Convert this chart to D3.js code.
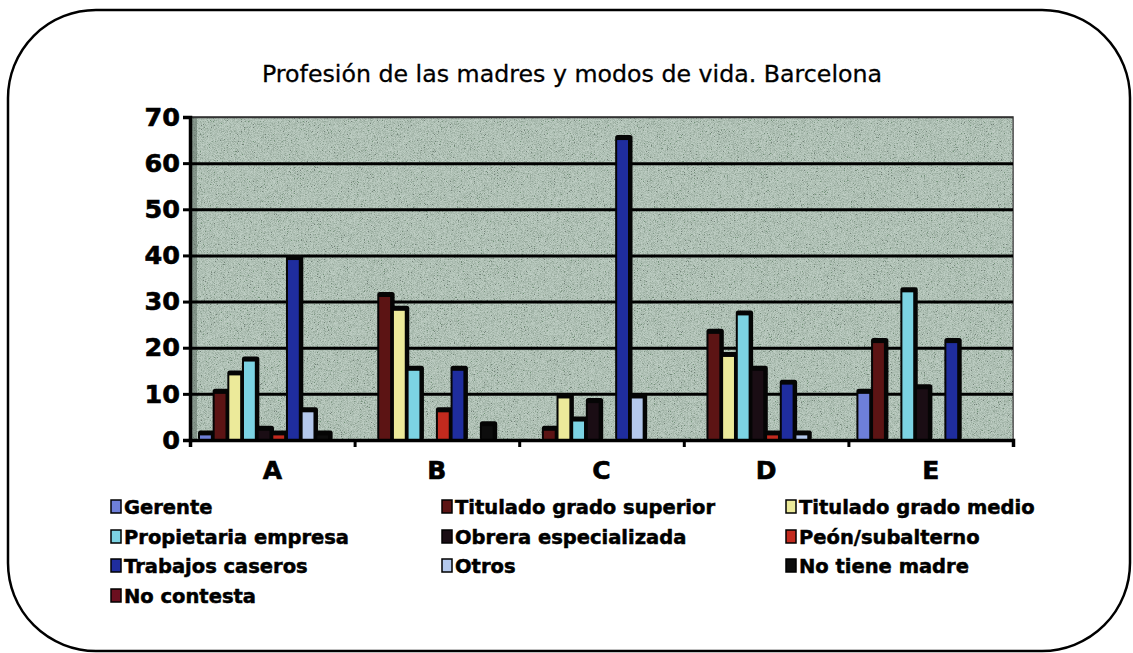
<!DOCTYPE html>
<html>
<head>
<meta charset="utf-8">
<script src="https://cdn.jsdelivr.net/npm/d3@7"></script>
<style>
  body { margin: 0; background: #fff; }
  svg { display: block; }
</style>
</head>
<body>
<svg id="chart" width="1133" height="653"></svg>
<script>
// data
let categories = ['A', 'B', 'C', 'D', 'E']
let seriesNames = ['Gerente', 'Titulado grado superior', 'Titulado grado medio',
  'Propietaria empresa', 'Obrera especializada', 'Peón/subalterno',
  'Trabajos caseros', 'Otros', 'No tiene madre', 'No contesta']
let gerente      = [1, 0, 0, 0, 10]
let tituladoSup  = [10, 31, 2, 23, 21]
let tituladoMed  = [14, 28, 9, 18, 0]
let propietaria  = [17, 15, 4, 27, 32]
let obrera       = [2, 0, 8, 15, 11]
let peon         = [1, 6, 0, 1, 0]
let trabajos     = [39, 15, 65, 12, 21]
let otros        = [6, 0, 9, 1, 0]
let noTieneMadre = [1, 3, 0, 0, 0]
let noContesta   = [0, 0, 0, 0, 0]
let yTicks = [0, 10, 20, 30, 40, 50, 60, 70]
let colors = ['#6e7fd9', '#5c1414', '#ecea9a', '#7cd3e3', '#1a0d14',
  '#c22a1e', '#1f2d9e', '#b4c8ec', '#0d0d0d', '#6b0f1f']

let values = [gerente, tituladoSup, tituladoMed, propietaria, obrera,
  peon, trabajos, otros, noTieneMadre, noContesta]

let plot = {left: 190, right: 1013, top: 117, bottom: 440}

const svg = d3.select('#chart')

// speckled background texture
const defs = svg.append('defs')
const noise = defs.append('filter').attr('id', 'noise')
  .attr('x', 0).attr('y', 0).attr('width', '100%').attr('height', '100%')
noise.append('feTurbulence')
  .attr('type', 'fractalNoise').attr('baseFrequency', 1.3)
  .attr('numOctaves', 1).attr('seed', 7).attr('result', 't')
noise.append('feColorMatrix').attr('type', 'matrix')
  .attr('values', '1.8 1.8 0 0 -1.2  1.8 1.8 0 0 -1.15  1.8 1.8 0 0 -1.2  0 0 0 0 0.3')

// rounded frame
svg.append('rect')
  .attr('x', 8).attr('y', 10)
  .attr('width', 1122).attr('height', 641)
  .attr('rx', 88).attr('ry', 88)
  .attr('fill', 'none').attr('stroke', '#000').attr('stroke-width', 2.5)

svg.append('text')
  .attr('x', 572).attr('y', 82)
  .attr('text-anchor', 'middle')
  .attr('font-family', 'DejaVu Sans')
  .attr('font-size', 23.5)
  .attr('stroke', '#000').attr('stroke-width', 0.3)
  .attr('textLength', 620).attr('lengthAdjust', 'spacingAndGlyphs')
  .text('Profesión de las madres y modos de vida. Barcelona')

let x = d3.scaleBand()
  .domain(categories)
  .range([plot.left, plot.right])

let xs = d3.scaleBand()
  .domain(seriesNames)
  .range([10, x.bandwidth() - 8])

let y = d3.scaleLinear()
  .domain([0, 70])
  .range([plot.bottom, plot.top])

// plot wall
svg.append('rect')
  .attr('x', plot.left).attr('y', plot.top)
  .attr('width', plot.right - plot.left).attr('height', plot.bottom - plot.top)
  .attr('fill', '#a3b8ab').attr('stroke', '#333').attr('stroke-width', 1.5)
svg.append('rect')
  .attr('x', plot.left).attr('y', plot.top)
  .attr('width', plot.right - plot.left).attr('height', plot.bottom - plot.top)
  .attr('filter', 'url(#noise)')
svg.append('rect')
  .attr('x', plot.left).attr('y', plot.top)
  .attr('width', 7).attr('height', plot.bottom - plot.top)
  .attr('fill', '#55655c').attr('opacity', 0.5)

// gridlines
svg.append('g')
  .attr('transform', `translate(${plot.left},0)`)
  .call(d3.axisLeft(y).tickValues(yTicks.slice(1)).tickSize(-(plot.right - plot.left)).tickFormat(''))
  .call(g => g.select('.domain').remove())
  .call(g => g.selectAll('.tick line').attr('stroke', '#000').attr('stroke-width', 3))
  .call(g => g.select('.tick:last-of-type line').attr('stroke-width', 1.5).attr('stroke', '#333'))

// bars with black shadow on top and right
let bars = []
categories.forEach((c, i) => {
  seriesNames.forEach((s, j) => {
    if (values[j][i] > 0) bars.push({cat: c, name: s, v: values[j][i], color: colors[j]})
  })
})
let bw = xs.bandwidth() * 0.74

const barG = svg.append('g')
barG.selectAll('g')
  .data(bars)
  .join('g')
  .each(function(d) {
    let g = d3.select(this)
    let bx = x(d.cat) + xs(d.name)
    g.append('rect')
      .attr('x', bx - 2).attr('y', y(d.v) - 5)
      .attr('width', bw + 6.5).attr('height', y(0) - y(d.v) + 5)
      .attr('rx', 2.5)
      .attr('fill', '#050505')
    g.append('rect')
      .attr('x', bx).attr('y', y(d.v))
      .attr('width', bw).attr('height', y(0) - y(d.v))
      .attr('fill', d.color)
  })

// y axis
svg.append('g')
  .attr('transform', `translate(${plot.left},0)`)
  .call(d3.axisLeft(y).tickValues(yTicks).tickSize(7).tickPadding(3))
  .call(g => g.select('.domain').attr('stroke-width', 3.5))
  .call(g => g.selectAll('.tick line').attr('stroke-width', 3))
  .call(g => g.selectAll('.tick text')
    .attr('font-family', 'DejaVu Sans').attr('font-weight', 'bold')
    .attr('font-size', 25.5).attr('fill', '#000')
    .attr('stroke', '#000').attr('stroke-width', 0.6))

// x axis: boundary ticks plus centred labels
let xb = d3.scaleLinear().domain([0, categories.length]).range([plot.left, plot.right])
svg.append('g')
  .attr('transform', `translate(0,${plot.bottom})`)
  .call(d3.axisBottom(xb).tickValues(d3.range(categories.length + 1)).tickSize(7).tickFormat(''))
  .call(g => g.select('.domain').attr('stroke-width', 3.5))
  .call(g => g.selectAll('.tick line').attr('stroke-width', 3))

svg.append('g')
  .attr('transform', `translate(0,${plot.bottom})`)
  .call(d3.axisBottom(x).tickSize(0).tickPadding(21))
  .call(g => g.select('.domain').remove())
  .call(g => g.selectAll('.tick text')
    .attr('font-family', 'DejaVu Sans').attr('font-weight', 'bold')
    .attr('font-size', 25).attr('fill', '#000')
    .attr('stroke', '#000').attr('stroke-width', 0.6))

// legend, three columns
let legendCols = [111, 442, 786]
let legendRows = [507, 537, 566, 596]
const legend = svg.append('g')
  .selectAll('g')
  .data(seriesNames)
  .join('g')
  .attr('transform', (d, i) => `translate(${legendCols[i % 3]},${legendRows[Math.floor(i / 3)]})`)
legend.append('rect')
  .attr('x', 0).attr('y', -7)
  .attr('width', 10).attr('height', 13)
  .attr('fill', (d, i) => colors[i])
  .attr('stroke', '#000').attr('stroke-width', 1.5)
legend.append('text')
  .attr('x', 13).attr('y', 0)
  .attr('dy', '0.35em')
  .attr('font-family', 'DejaVu Sans').attr('font-weight', 'bold')
  .attr('font-size', 19.5)
  .attr('stroke', '#000').attr('stroke-width', 0.5)
  .text(d => d)
</script>
</body>
</html>
